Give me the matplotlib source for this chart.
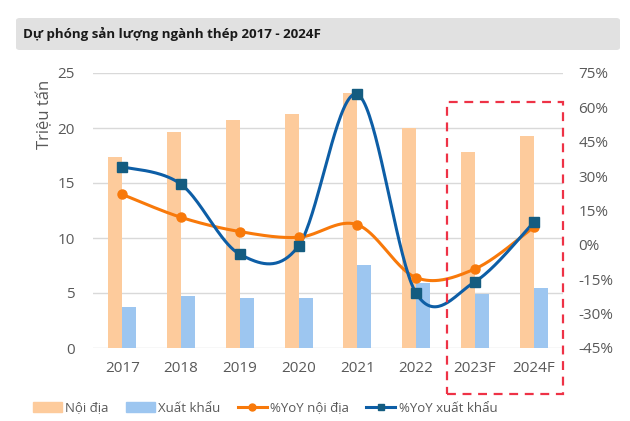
import numpy as np
import matplotlib.pyplot as plt
from matplotlib.patches import FancyBboxPatch, Rectangle, Patch
from matplotlib.lines import Line2D

plt.rcParams["font.family"] = ["Open Sans", "DejaVu Sans"]

# dữ liệu
nam = ["2017", "2018", "2019", "2020", "2021", "2022", "2023F", "2024F"]
noi_dia = [17.4, 19.6, 20.7, 21.3, 23.2, 20.0, 17.85, 19.3]
xuat_khau = [3.75, 4.75, 4.57, 4.55, 7.55, 5.9, 4.95, 5.45]
yoy_noi_dia = [22.0, 12.0, 5.8, 3.3, 8.8, -14.3, -10.5, 7.7]
yoy_xuat_khau = [34.1, 26.4, -4.1, -0.4, 65.7, -21.1, -16.1, 9.8]

c_bar1 = "#FDCB9C"
c_bar2 = "#9DC6F0"
c_line1 = "#F8790A"
c_line2 = "#0D5EA6"
c_mark2 = "#145C80"
c_text = "#595959"


def smooth(xs, ys, n=40):
    # duong cong kieu Excel (Bezier / Catmull-Rom)
    p = np.column_stack([xs, ys]).astype(float)
    p = np.vstack([p[0], p, p[-1]])
    out = []
    for i in range(1, len(p) - 2):
        p0, p1, p2, p3 = p[i - 1], p[i], p[i + 1], p[i + 2]
        c1 = p1 + (p2 - p0) / 6
        c2 = p2 - (p3 - p1) / 6
        t = np.linspace(0, 1, n)[:, None]
        seg = (1 - t) ** 3 * p1 + 3 * (1 - t) ** 2 * t * c1 + 3 * (1 - t) * t ** 2 * c2 + t ** 3 * p2
        out.append(seg)
    out = np.vstack(out)
    return out[:, 0], out[:, 1]


fig = plt.figure(figsize=(6.3, 4.21), dpi=100, facecolor="white")
ax = fig.add_axes([93 / 630, 1 - 348 / 421, 470 / 630, 275 / 421])
x = np.arange(len(nam))
w = 0.24
ax.bar(x - w / 2, noi_dia, width=w, color=c_bar1, zorder=2)
ax.bar(x + w / 2, xuat_khau, width=w, color=c_bar2, zorder=2)
ax.set_xlim(-0.5, len(nam) - 0.5)
ax.set_ylim(0, 25)
ax.set_yticks(range(0, 26, 5))
ax.set_xticks(x)
ax.set_xticklabels(nam)
ax.grid(axis="y", color="#D9D9D9", lw=1, zorder=0)
for s in ax.spines.values():
    s.set_visible(False)
ax.tick_params(length=0, labelsize=11, colors=c_text)
ax.tick_params(axis="x", pad=9)
ax.tick_params(axis="y", pad=13)
ax.text(-0.102, 0.975, "Triệu tấn", transform=ax.transAxes, rotation=90,
        ha="center", va="top", fontsize=12, color=c_text)

ax2 = ax.twinx()
ax2.set_ylim(-45, 75)
ax2.set_yticks(range(-45, 76, 15))
ax2.set_yticklabels([f"{v}%" for v in range(-45, 76, 15)])
for s in ax2.spines.values():
    s.set_visible(False)
ax2.tick_params(length=0, labelsize=11, colors=c_text, pad=11)

sx, sy = smooth(x, yoy_noi_dia)
ax2.plot(sx, sy, color=c_line1, lw=2.2, zorder=3)
ax2.plot(x, yoy_noi_dia, "o", color=c_line1, ms=6.5, zorder=4)
sx, sy = smooth(x, yoy_xuat_khau)
ax2.plot(sx, sy, color=c_line2, lw=2.2, zorder=3)
ax2.plot(x, yoy_xuat_khau, "s", color=c_mark2, ms=6.5, zorder=4)

# khung tieu de
fig.patches.append(FancyBboxPatch((16 / 630, 1 - 50 / 421), 604 / 630, 32 / 421,
                                  boxstyle="round,pad=0,rounding_size=0.006",
                                  transform=fig.transFigure, facecolor="#E1E1E1",
                                  edgecolor="none"))
fig.text(23 / 630, 1 - 34 / 421, "Dự phóng sản lượng ngành thép 2017 - 2024F",
         fontsize=9.6, fontweight="bold", color="#1A1A1A", va="center", ha="left")

# khung du bao
fig.patches.append(Rectangle((447 / 630, 1 - 394 / 421), 116 / 630, 292 / 421,
                             transform=fig.transFigure, fill=False,
                             edgecolor="#EE3246", lw=1.6, ls=(0, (4, 3))))

handles = [Patch(color=c_bar1), Patch(color=c_bar2),
           Line2D([], [], color=c_line1, lw=2.2, marker="o", ms=5),
           Line2D([], [], color=c_line2, lw=2.2, marker="s", ms=5, mfc=c_mark2, mec=c_mark2)]
labels = ["Nội địa", "Xuất khẩu", "%YoY nội địa", "%YoY xuất khẩu"]
leg = fig.legend(handles, labels, loc="center left", bbox_to_anchor=(33 / 630, 1 - 408 / 421),
                 ncol=4, frameon=False, fontsize=9.5, handlelength=2.2,
                 handleheight=0.8, columnspacing=1.3, handletextpad=0.25,
                 borderpad=0, borderaxespad=0)
for t in leg.get_texts():
    t.set_color(c_text)

plt.savefig("out.png", dpi=100, facecolor="white")
